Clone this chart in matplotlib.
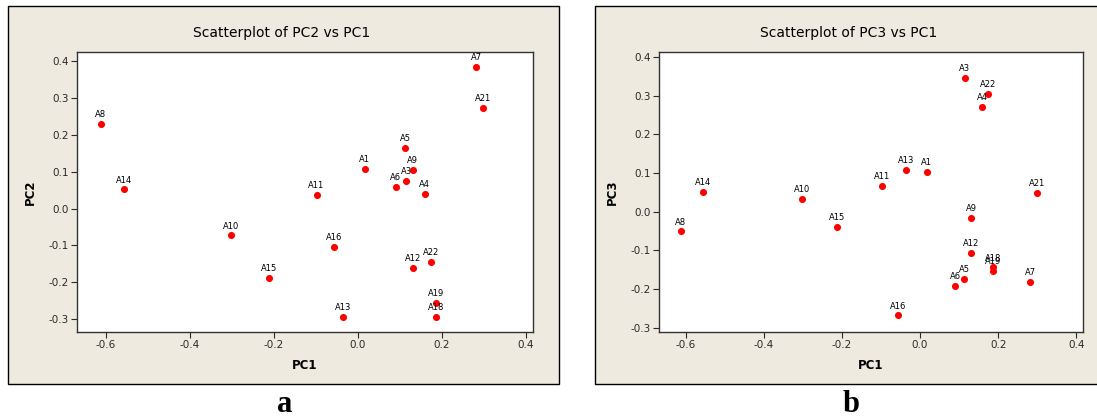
import matplotlib
matplotlib.use("Agg")
import matplotlib.pyplot as plt
from matplotlib.patches import Rectangle

plt.rcParams['font.family'] = 'DejaVu Sans'
plt.rcParams['axes.unicode_minus'] = False

names = ["A8", "A14", "A10", "A15", "A11", "A16", "A13", "A1", "A6", "A3",
         "A5", "A9", "A4", "A12", "A22", "A19", "A18", "A7", "A21"]
pc1 = [-0.612, -0.556, -0.301, -0.212, -0.098, -0.057, -0.035, 0.017, 0.090, 0.115,
       0.113, 0.131, 0.159, 0.131, 0.174, 0.186, 0.186, 0.282, 0.299]
pc2 = [0.229, 0.052, -0.073, -0.188, 0.037, -0.103, -0.293, 0.107, 0.058, 0.074,
       0.165, 0.104, 0.040, -0.161, -0.145, -0.255, -0.295, 0.385, 0.273]
pc3 = [-0.051, 0.051, 0.033, -0.039, 0.067, -0.268, 0.107, 0.102, -0.191, 0.346,
       -0.173, -0.015, 0.271, -0.107, 0.304, -0.153, -0.144, -0.181, 0.049]

W, H = 1097, 418
bg = '#EEEAE0'
fig = plt.figure(figsize=(W / 100, H / 100), dpi=100)


def px_box(x0, y0, x1, y1):
    # pixel box (top-left origin) -> figure fraction [l, b, w, h]
    return [x0 / W, 1 - y1 / H, (x1 - x0) / W, (y1 - y0) / H]


def panel(frame, box, y, ylabel, title, tag, tag_x, ylim):
    l, b, w, h = px_box(*frame)
    fig.patches.append(Rectangle((l, b), w, h, transform=fig.transFigure,
                                 facecolor=bg, edgecolor='black', lw=1.0, zorder=-5))
    ax = fig.add_axes(px_box(*box))
    ax.set_zorder(2)
    ax.set_facecolor('white')
    ax.scatter(pc1, y, s=26, color='#FF0000', zorder=3, linewidths=0)
    for n, xv, yv in zip(names, pc1, y):
        ax.annotate(n, (xv, yv), xytext=(0, 3.5), textcoords='offset points',
                    ha='center', va='bottom', fontsize=6, color='black')
    ax.set_xlim(-0.668, 0.417)
    ax.set_ylim(*ylim)
    ax.set_xticks([-0.6, -0.4, -0.2, 0.0, 0.2, 0.4])
    ax.set_xticklabels(["-0.6", "-0.4", "-0.2", "0.0", "0.2", "0.4"])
    yt = [-0.3, -0.2, -0.1, 0.0, 0.1, 0.2, 0.3, 0.4]
    ax.set_yticks(yt)
    ax.set_yticklabels([f"{v:.1f}" for v in yt])
    ax.tick_params(labelsize=7.5, colors='#2a2a2a', length=4, width=0.8, pad=2)
    for s in ax.spines.values():
        s.set_color('#333333')
        s.set_linewidth(1.0)
    ax.set_xlabel('PC1', fontsize=8.5, fontweight='bold', labelpad=6)
    ax.set_ylabel(ylabel, fontsize=8.5, fontweight='bold', labelpad=8)
    fig.text(tag_x[0] / W, 1 - 33 / H, title, ha='center', va='center', fontsize=10)
    fig.text(tag_x[1] / W, 1 - 405 / H, tag, ha='center', va='center',
             fontsize=22, fontweight='bold', family='Liberation Serif')
    return ax


panel((8, 6, 559, 384), (77, 52, 533, 332), pc2, 'PC2',
      'Scatterplot of PC2 vs PC1', 'a', (282, 285), (-0.335, 0.425))
panel((595, 6, 1100, 384), (659, 52, 1083, 332), pc3, 'PC3',
      'Scatterplot of PC3 vs PC1', 'b', (849, 851), (-0.311, 0.413))

fig.savefig('out.png', dpi=100)
